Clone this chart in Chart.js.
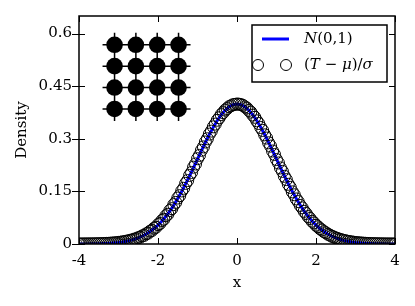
<!DOCTYPE html>
<html><head><meta charset="utf-8">
<script src="https://cdn.jsdelivr.net/npm/chart.js@4.4.0/dist/chart.umd.min.js"></script>
<style>html,body{margin:0;padding:0;background:#fff;}#wrap{width:415px;height:306px;position:relative;}</style>
</head><body><div id="wrap"><canvas id="c" width="415" height="306"></canvas></div>
<script>
// ---- data ----
const curveX = [-4.0,-3.9,-3.8,-3.7,-3.6,-3.5,-3.4,-3.3,-3.2,-3.1,-3.0,-2.9,-2.8,-2.7,-2.6,-2.5,-2.4,-2.3,-2.2,-2.1,-2.0,-1.9,-1.8,-1.7,-1.6,-1.5,-1.4,-1.3,-1.2,-1.1,-1.0,-0.9,-0.8,-0.7,-0.6,-0.5,-0.4,-0.3,-0.2,-0.1,0.0,0.1,0.2,0.3,0.4,0.5,0.6,0.7,0.8,0.9,1.0,1.1,1.2,1.3,1.4,1.5,1.6,1.7,1.8,1.9,2.0,2.1,2.2,2.3,2.4,2.5,2.6,2.7,2.8,2.9,3.0,3.1,3.2,3.3,3.4,3.5,3.6,3.7,3.8,3.9,4.0];
const curveY = [0.0001,0.0002,0.0003,0.0004,0.0006,0.0009,0.0012,0.0017,0.0024,0.0033,0.0044,0.0060,0.0079,0.0104,0.0136,0.0175,0.0224,0.0283,0.0355,0.0440,0.0540,0.0656,0.0790,0.0940,0.1109,0.1295,0.1497,0.1714,0.1942,0.2179,0.2420,0.2661,0.2897,0.3123,0.3332,0.3521,0.3683,0.3814,0.3910,0.3970,0.3989,0.3970,0.3910,0.3814,0.3683,0.3521,0.3332,0.3123,0.2897,0.2661,0.2420,0.2179,0.1942,0.1714,0.1497,0.1295,0.1109,0.0940,0.0790,0.0656,0.0540,0.0440,0.0355,0.0283,0.0224,0.0175,0.0136,0.0104,0.0079,0.0060,0.0044,0.0033,0.0024,0.0017,0.0012,0.0009,0.0006,0.0004,0.0003,0.0002,0.0001];

const sampleX = [-4.00,-3.95,-3.90,-3.85,-3.80,-3.75,-3.70,-3.65,-3.60,-3.55,-3.50,-3.45,-3.40,-3.35,-3.30,-3.25,-3.20,-3.15,-3.10,-3.05,-3.00,-2.95,-2.90,-2.85,-2.80,-2.75,-2.70,-2.65,-2.60,-2.55,-2.50,-2.45,-2.40,-2.35,-2.30,-2.25,-2.20,-2.15,-2.10,-2.05,-2.00,-1.95,-1.90,-1.85,-1.80,-1.75,-1.70,-1.65,-1.60,-1.55,-1.50,-1.45,-1.40,-1.35,-1.30,-1.25,-1.20,-1.15,-1.10,-1.05,-1.00,-0.95,-0.90,-0.85,-0.80,-0.75,-0.70,-0.65,-0.60,-0.55,-0.50,-0.45,-0.40,-0.35,-0.30,-0.25,-0.20,-0.15,-0.10,-0.05,0.00,0.05,0.10,0.15,0.20,0.25,0.30,0.35,0.40,0.45,0.50,0.55,0.60,0.65,0.70,0.75,0.80,0.85,0.90,0.95,1.00,1.05,1.10,1.15,1.20,1.25,1.30,1.35,1.40,1.45,1.50,1.55,1.60,1.65,1.70,1.75,1.80,1.85,1.90,1.95,2.00,2.05,2.10,2.15,2.20,2.25,2.30,2.35,2.40,2.45,2.50,2.55,2.60,2.65,2.70,2.75,2.80,2.85,2.90,2.95,3.00,3.05,3.10,3.15,3.20,3.25,3.30,3.35,3.40,3.45,3.50,3.55,3.60,3.65,3.70,3.75,3.80,3.85,3.90,3.95,4.00];
const sampleY = [0.0002,0.0001,0.0003,0.0002,0.0004,0.0003,0.0005,0.0004,0.0007,0.0006,0.0010,0.0009,0.0013,0.0014,0.0018,0.0019,0.0025,0.0027,0.0034,0.0037,0.0046,0.0050,0.0062,0.0067,0.0082,0.0088,0.0108,0.0115,0.0141,0.0149,0.0181,0.0193,0.0232,0.0245,0.0292,0.0309,0.0366,0.0387,0.0451,0.0478,0.0553,0.0584,0.0670,0.0707,0.0805,0.0848,0.0955,0.1008,0.1124,0.1186,0.1310,0.1378,0.1512,0.1588,0.1728,0.1808,0.1955,0.2040,0.2190,0.2282,0.2432,0.2526,0.2672,0.2768,0.2908,0.3000,0.3133,0.3218,0.3340,0.3418,0.3528,0.3598,0.3690,0.3746,0.3818,0.3862,0.3915,0.3940,0.3972,0.3980,0.3992,0.3986,0.3975,0.3952,0.3910,0.3875,0.3808,0.3760,0.3676,0.3612,0.3512,0.3436,0.3322,0.3238,0.3112,0.3020,0.2885,0.2790,0.2650,0.2552,0.2408,0.2310,0.2168,0.2070,0.1930,0.1836,0.1702,0.1614,0.1486,0.1403,0.1284,0.1209,0.1099,0.1031,0.0931,0.0870,0.0782,0.0727,0.0649,0.0601,0.0534,0.0492,0.0435,0.0399,0.0351,0.0320,0.0280,0.0254,0.0221,0.0200,0.0173,0.0156,0.0134,0.0120,0.0103,0.0092,0.0078,0.0070,0.0059,0.0052,0.0043,0.0039,0.0032,0.0029,0.0023,0.0021,0.0016,0.0015,0.0011,0.0011,0.0008,0.0008,0.0005,0.0005,0.0004,0.0003,0.0002,0.0003,0.0001,0.0002,0.0001];

const latticeX = [-3.10,-2.56,-2.02,-1.48];
const latticeY = [0.568,0.507,0.446,0.385];

const xTicks = [-4,-2,0,2,4];
const xTickLabels = ['-4','-2','0','2','4'];
const yTicks = [0,0.15,0.3,0.45,0.6];
const yTickLabels = ['0','0.15','0.3','0.45','0.6'];

const xTitle = 'x';
const yTitle = 'Density';
const seriesNames = ['N(0,1)','(T \u2212 \u03bc)/\u03c3'];
// segments of the legend math text: [text, italic]
const legendSegments = [
  [['N',true],['(0,1)',false]],
  [['(',false],['T',true],[' \u2212 ',false],['\u03bc',true],[')/',false],['\u03c3',true]]
];

// ---- build ----
const SERIF = "'DejaVu Serif', serif";
const curveData = curveX.map((x,i)=>({x, y: curveY[i]}));
const sampleData = sampleX.map((x,i)=>({x, y: sampleY[i]}));
const latticeData = [];
latticeY.forEach(y=>latticeX.forEach(x=>latticeData.push({x,y})));

const latticeLines = {
  id:'latticeLines',
  beforeDatasetsDraw(chart){
    const {ctx, scales:{x,y}} = chart;
    const xs = latticeX.map(v=>x.getPixelForValue(v));
    const ys = latticeY.map(v=>y.getPixelForValue(v));
    const ext = 12;
    ctx.save();
    ctx.strokeStyle='#000'; ctx.lineWidth=1.5;
    ctx.beginPath();
    ys.forEach(py=>{ctx.moveTo(xs[0]-ext,py); ctx.lineTo(xs[xs.length-1]+ext,py);});
    xs.forEach(px=>{ctx.moveTo(px,ys[0]-ext); ctx.lineTo(px,ys[ys.length-1]+ext);});
    ctx.stroke();
    ctx.restore();
  }
};

const frameTicks = {
  id:'frameTicks',
  afterDatasetsDraw(chart){
    const {ctx, chartArea:a, scales:{x,y}} = chart;
    ctx.save();
    ctx.strokeStyle='#000'; ctx.lineWidth=1;
    ctx.beginPath();
    xTicks.forEach(v=>{const px=Math.round(x.getPixelForValue(v))+0.5;
      ctx.moveTo(px,a.bottom); ctx.lineTo(px,a.bottom-6);
      ctx.moveTo(px,a.top); ctx.lineTo(px,a.top+6);});
    yTicks.forEach(v=>{const py=Math.round(y.getPixelForValue(v))+0.5;
      ctx.moveTo(a.left-7,py); ctx.lineTo(a.left+6,py);
      ctx.moveTo(a.right,py); ctx.lineTo(a.right-6,py);});
    ctx.stroke();
    ctx.lineWidth=1.5;
    ctx.strokeRect(a.left,a.top,a.right-a.left,a.bottom-a.top);
    ctx.restore();
  }
};

function drawSegments(ctx, segs, x0, y0, size){
  let x = x0;
  segs.forEach(([t,it])=>{
    ctx.font = (it?'italic ':'') + size + 'px ' + SERIF;
    ctx.fillText(t, x, y0);
    x += ctx.measureText(t).width;
  });
}

const mathLegend = {
  id:'mathLegend',
  afterDraw(chart){
    const {ctx, chartArea:a} = chart;
    const bx = a.right-143, by = a.top+9, bw = 135, bh = 57;
    ctx.save();
    ctx.fillStyle='#fff'; ctx.fillRect(bx,by,bw,bh);
    ctx.strokeStyle='#000'; ctx.lineWidth=1.5; ctx.strokeRect(bx,by,bw,bh);
    const r1 = by+14, r2 = by+40;
    ctx.strokeStyle='#0000ff'; ctx.lineWidth=3;
    ctx.beginPath(); ctx.moveTo(bx+10,r1); ctx.lineTo(bx+37,r1); ctx.stroke();
    ctx.strokeStyle='#000'; ctx.lineWidth=1;
    [bx+6,bx+34].forEach(cx=>{ctx.beginPath(); ctx.arc(cx,r2,5.5,0,Math.PI*2); ctx.stroke();});
    ctx.fillStyle='#000'; ctx.textBaseline='middle'; ctx.textAlign='left';
    drawSegments(ctx, legendSegments[0], bx+52, r1, 15);
    drawSegments(ctx, legendSegments[1], bx+52, r2, 15);
    ctx.restore();
  }
};

new Chart(document.getElementById('c'), {
  type:'scatter',
  data:{datasets:[
    {label:seriesNames[1], data:sampleData, order:0, showLine:false,
     pointStyle:'circle', pointRadius:6, pointBorderWidth:1,
     pointBorderColor:'#000', pointBackgroundColor:'rgba(0,0,0,0)'},
    {label:seriesNames[0], data:curveData, order:1, showLine:true,
     borderColor:'#0000ff', borderWidth:3, pointRadius:0, tension:0, fill:false},
    {label:'lattice', data:latticeData, order:2, showLine:false,
     pointStyle:'circle', pointRadius:8.3, pointBorderWidth:0,
     pointBackgroundColor:'#000', pointBorderColor:'#000'}
  ]},
  options:{
    responsive:false, animation:false, devicePixelRatio:1, events:[],
    layout:{padding:{top:14,right:20,left:0,bottom:0}},
    plugins:{legend:{display:false}, tooltip:{enabled:false}},
    scales:{
      x:{type:'linear', min:-4, max:4,
        afterBuildTicks(s){ s.ticks = xTicks.map(v=>({value:v})); },
        afterFit(s){ s.height = 62; },
        grid:{display:false, drawTicks:false}, border:{display:false},
        ticks:{padding:8, color:'#000', font:{family:SERIF,size:15},
          callback:(v,i)=>xTickLabels[i]},
        title:{display:true, text:xTitle, color:'#000', font:{family:SERIF,size:15}, padding:{top:0,bottom:14}}
      },
      y:{type:'linear', min:0, max:0.65,
        afterBuildTicks(s){ s.ticks = yTicks.map(v=>({value:v})); },
        afterFit(s){ s.width = 79; },
        grid:{display:false, drawTicks:false}, border:{display:false},
        ticks:{padding:7, color:'#000', font:{family:SERIF,size:15},
          callback:(v,i)=>yTickLabels[i]},
        title:{display:true, text:yTitle, color:'#000', font:{family:SERIF,size:15}, padding:{top:13,bottom:0}}
      }
    }
  },
  plugins:[latticeLines, frameTicks, mathLegend]
});
</script></body></html>
